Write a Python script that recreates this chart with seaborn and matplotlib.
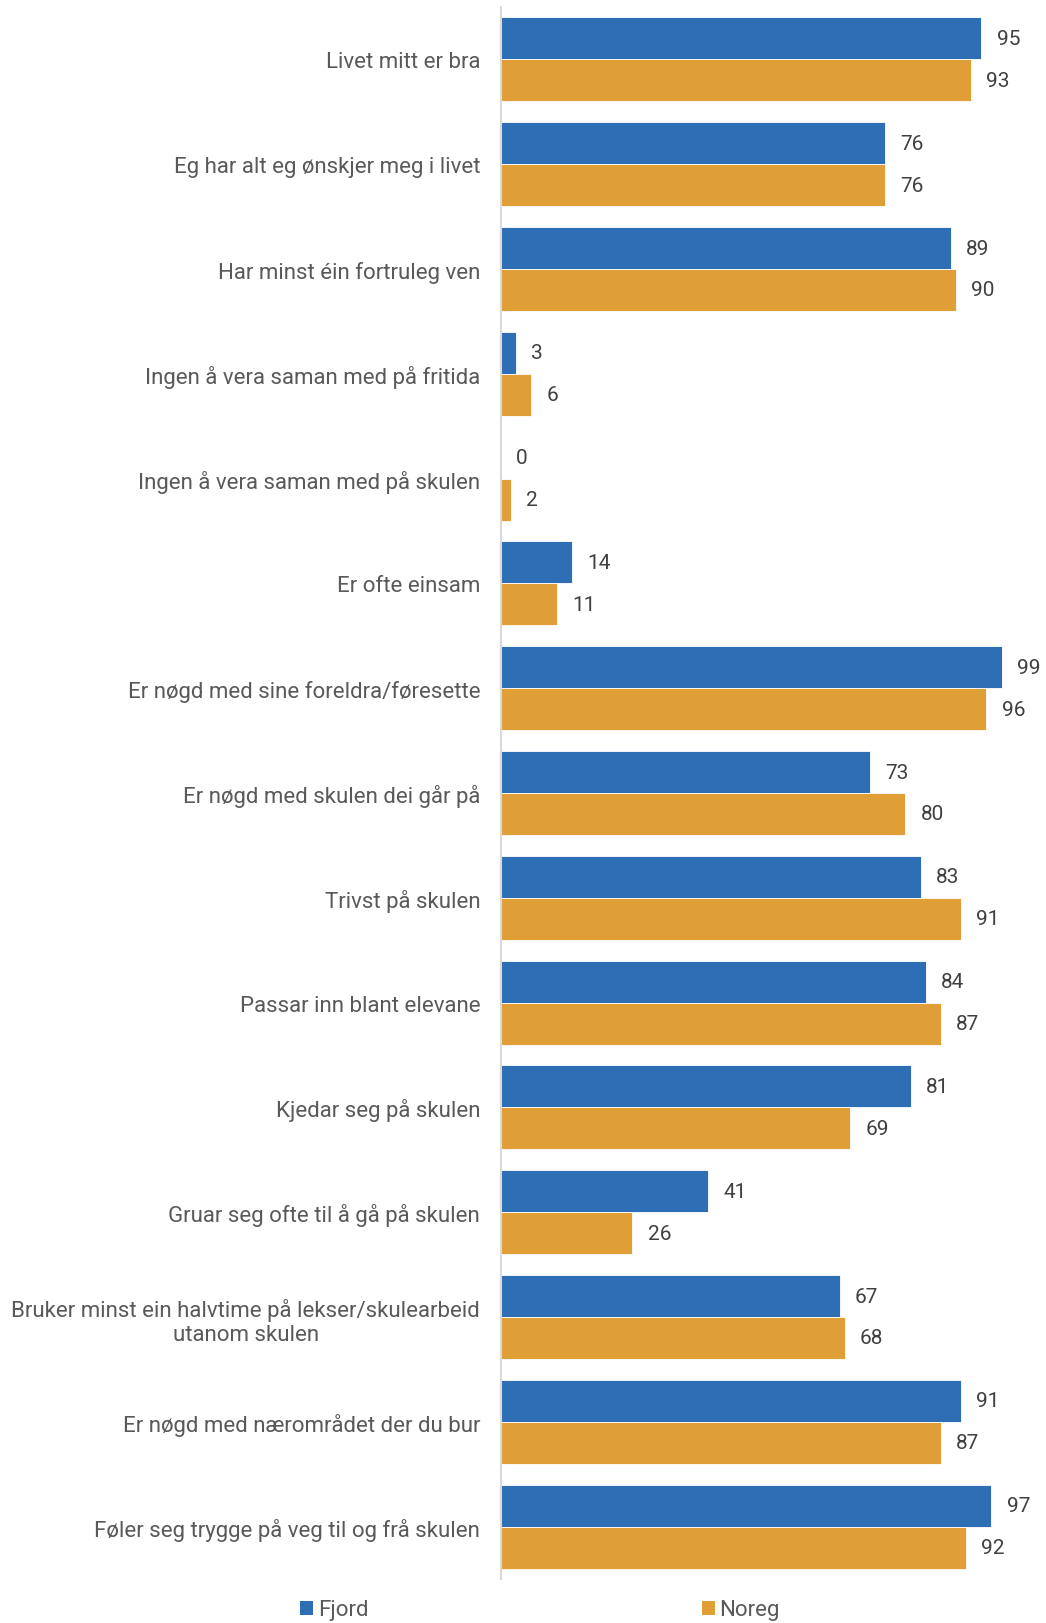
import matplotlib
matplotlib.use("Agg")
import matplotlib.pyplot as plt
import seaborn as sns
import pandas as pd
from matplotlib.patches import Patch

categories = [
    "Livet mitt er bra",
    "Eg har alt eg ønskjer meg i livet",
    "Har minst éin fortruleg ven",
    "Ingen å vera saman med på fritida",
    "Ingen å vera saman med på skulen",
    "Er ofte einsam",
    "Er nøgd med sine foreldra/føresette",
    "Er nøgd med skulen dei går på",
    "Trivst på skulen",
    "Passar inn blant elevane",
    "Kjedar seg på skulen",
    "Gruar seg ofte til å gå på skulen",
    "Bruker minst ein halvtime på lekser/skulearbeid\nutanom skulen",
    "Er nøgd med nærområdet der du bur",
    "Føler seg trygge på veg til og frå skulen",
]
fjord = [95, 76, 89, 3, 0, 14, 99, 73, 83, 84, 81, 41, 67, 91, 97]
noreg = [93, 76, 90, 6, 2, 11, 96, 80, 91, 87, 69, 26, 68, 87, 92]
series = ["Fjord", "Noreg"]
colors = ["#2E6EB5", "#E09E36"]

df = pd.DataFrame({
    "cat": categories * 2,
    "val": fjord + noreg,
    "serie": [series[0]] * len(fjord) + [series[1]] * len(noreg),
})

sns.set_theme(style="white")
plt.rcParams["font.family"] = ["Roboto", "DejaVu Sans"]

fig = plt.figure(figsize=(10.46, 16.24), dpi=100)
ax = fig.add_axes([501 / 1046, 1 - 1580 / 1624, 541 / 1046, (1580 - 8) / 1624])

sns.barplot(data=df, y="cat", x="val", hue="serie", order=categories,
            hue_order=series, palette=colors, orient="h", width=0.8,
            saturation=1, ax=ax, legend=False, edgecolor="white", linewidth=0.6)

for cont in ax.containers:
    ax.bar_label(cont, padding=11, fontsize=15, color="#404040")

ax.set_xlim(0, 107)
ax.set_ylim(14.5, -0.5)
ax.set_xlabel("")
ax.set_ylabel("")
ax.set_xticks([])
ax.tick_params(axis="y", length=0, pad=15, labelsize=16, labelcolor="#595959")
for lab in ax.get_yticklabels():
    lab.set_multialignment("center")
for s in ["top", "right", "bottom"]:
    ax.spines[s].set_visible(False)
ax.spines["left"].set_color("#D9D9D9")
ax.spines["left"].set_linewidth(1.5)

handles = [Patch(facecolor=c, edgecolor="none") for c in colors]
fig.legend(handles, series, loc="center", bbox_to_anchor=(540 / 1046, 1 - 1611 / 1624),
           ncol=2, frameon=False, fontsize=16, handlelength=0.6, handleheight=0.6,
           handletextpad=0.2, columnspacing=15.0, labelcolor="#595959")

fig.savefig("out.png", dpi=100)
